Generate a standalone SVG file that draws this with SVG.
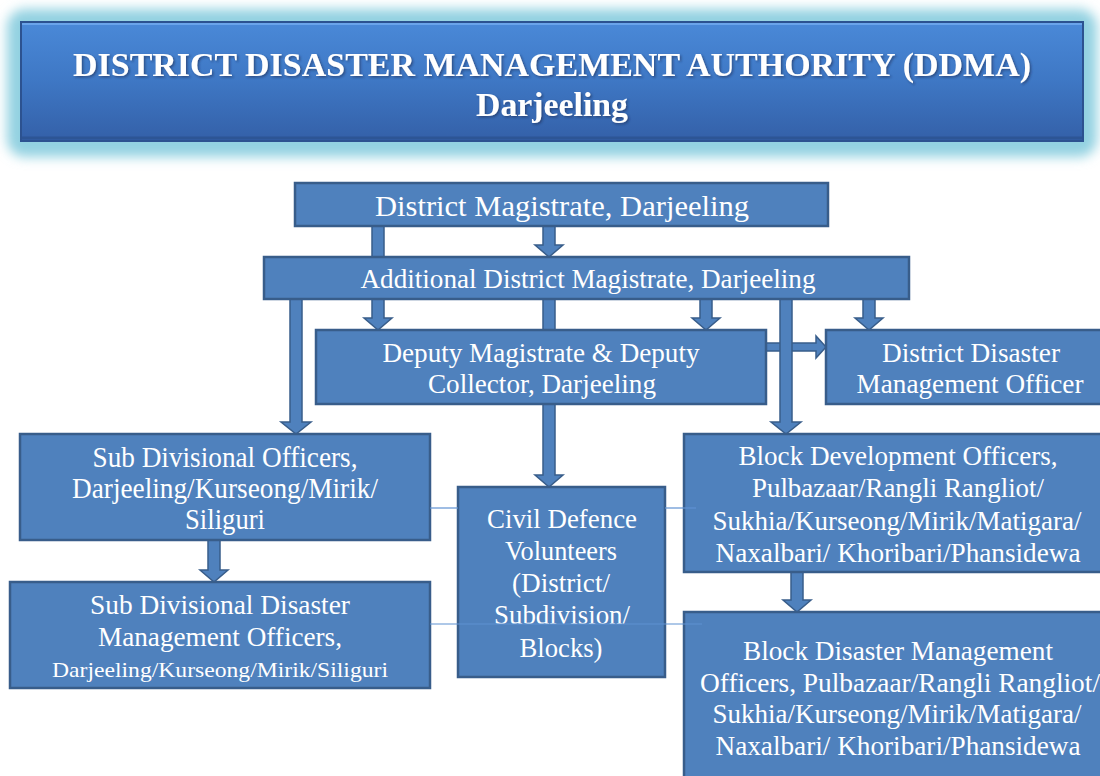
<svg xmlns="http://www.w3.org/2000/svg" width="1100" height="776" viewBox="0 0 1100 776">
<defs>
<linearGradient id="hdr" x1="0" y1="0" x2="0" y2="1">
<stop offset="0" stop-color="#4a89d8"/>
<stop offset="0.5" stop-color="#3e77c4"/>
<stop offset="1" stop-color="#3460a8"/>
</linearGradient>
<filter id="glow" x="-5%" y="-20%" width="110%" height="140%">
<feGaussianBlur stdDeviation="6"/>
</filter>
<filter id="tshadow" x="-5%" y="-20%" width="110%" height="140%">
<feDropShadow dx="1.5" dy="1.5" stdDeviation="1" flood-color="#1a2f55" flood-opacity="0.6"/>
</filter>
</defs>
<style>
.box{fill:#4f81bd;stroke:#385d8a;stroke-width:2.5}
.arr{fill:#4f81bd;stroke:#385d8a;stroke-width:1.5;stroke-linejoin:miter}
.thin{stroke:#5f92d2;stroke-width:1.2;fill:none}
.t{font-family:"Liberation Serif","Times New Roman",serif;fill:#ffffff;text-anchor:middle;font-size:27px}
.title{font-family:"Liberation Serif","Times New Roman",serif;font-weight:bold;fill:#ffffff;text-anchor:middle}
</style>

<g id="header">
<rect x="7" y="9" width="1090" height="148" rx="18" fill="#93d1e1" filter="url(#glow)"/>
<rect x="21" y="22" width="1062" height="119" fill="url(#hdr)" stroke="#2c5290" stroke-width="2"/>
<line x1="22" y1="24" x2="1082" y2="24" stroke="#6aa4ea" stroke-width="2"/>
<line x1="22" y1="138" x2="1082" y2="138" stroke="#2d5595" stroke-width="3"/>
<g filter="url(#tshadow)">
<text class="title" x="552" y="76" font-size="33" textLength="958" lengthAdjust="spacingAndGlyphs">DISTRICT DISASTER MANAGEMENT AUTHORITY (DDMA)</text>
<text class="title" x="552" y="116" font-size="33" textLength="152" lengthAdjust="spacingAndGlyphs">Darjeeling</text>
</g>
</g>

<g id="connectors">
<path class="arr" d="M372,226 H384 V257 H372 Z"/>
<path class="arr" d="M543,226 H555 V245 H563 L549,257 L535,245 H543 Z"/>
<path class="arr" d="M290,299 H302 V422 H311 L296,434 L281,422 H290 Z"/>
<path class="arr" d="M372,299 H384 V318 H392 L378,330 L364,318 H372 Z"/>
<path class="arr" d="M543,299 H555 V330 H543 Z"/>
<path class="arr" d="M700,299 H712 V318 H720 L706,330 L692,318 H700 Z"/>
<path class="arr" d="M863,299 H875 V318 H883 L869,330 L855,318 H863 Z"/>
<path class="arr" d="M766,343 H816 V336 L826,347 L816,358 V351 H766 Z"/>
<path class="arr" d="M780,299 H792 V422 H801 L786,434 L771,422 H780 Z"/>
<path class="arr" d="M543,404 H555 V475 H563 L549,487 L535,475 H543 Z"/>
<path class="arr" d="M208,540 H220 V570 H228 L214,582 L200,570 H208 Z"/>
<path class="arr" d="M791,572 H803 V600 H811 L797,612 L783,600 H791 Z"/>
</g>

<g id="dm">
<rect class="box" x="295" y="183" width="533" height="43"/>
<text class="t" x="562" y="216" style="font-size:29px" textLength="374" lengthAdjust="spacingAndGlyphs">District Magistrate, Darjeeling</text>
</g>

<g id="adm">
<rect class="box" x="264" y="257" width="645" height="42"/>
<text class="t" x="588" y="288" textLength="455" lengthAdjust="spacingAndGlyphs">Additional District Magistrate, Darjeeling</text>
</g>

<g id="deputy">
<rect class="box" x="316" y="330" width="450" height="74"/>
<text class="t" x="541" y="362" textLength="317" lengthAdjust="spacingAndGlyphs">Deputy Magistrate &amp; Deputy</text>
<text class="t" x="542" y="393" textLength="228" lengthAdjust="spacingAndGlyphs">Collector, Darjeeling</text>
</g>

<g id="ddmo">
<rect class="box" x="826" y="330" width="280" height="74"/>
<text class="t" x="971" y="362" textLength="178" lengthAdjust="spacingAndGlyphs">District Disaster</text>
<text class="t" x="970" y="393" textLength="227" lengthAdjust="spacingAndGlyphs">Management Officer</text>
</g>

<g id="sdo">
<rect class="box" x="20" y="434" width="410" height="106"/>
<text class="t" x="225" y="467" style="font-size:29px" textLength="265" lengthAdjust="spacingAndGlyphs">Sub Divisional Officers,</text>
<text class="t" x="225" y="498" style="font-size:29px" textLength="306" lengthAdjust="spacingAndGlyphs">Darjeeling/Kurseong/Mirik/</text>
<text class="t" x="225" y="529" style="font-size:29px" textLength="80" lengthAdjust="spacingAndGlyphs">Siliguri</text>
</g>

<g id="sddmo">
<rect class="box" x="10" y="582" width="420" height="106"/>
<text class="t" x="220" y="614" textLength="260" lengthAdjust="spacingAndGlyphs">Sub Divisional Disaster</text>
<text class="t" x="220" y="646" textLength="244" lengthAdjust="spacingAndGlyphs">Management Officers,</text>
<text class="t" x="220" y="677" style="font-size:22px" textLength="336" lengthAdjust="spacingAndGlyphs">Darjeeling/Kurseong/Mirik/Siliguri</text>
</g>

<g id="civil-defence">
<rect class="box" x="458" y="487" width="207" height="190"/>
<text class="t" x="562" y="528" textLength="150" lengthAdjust="spacingAndGlyphs">Civil Defence</text>
<text class="t" x="561" y="560" textLength="112" lengthAdjust="spacingAndGlyphs">Volunteers</text>
<text class="t" x="561" y="592" textLength="98" lengthAdjust="spacingAndGlyphs">(District/</text>
<text class="t" x="562" y="624" textLength="136" lengthAdjust="spacingAndGlyphs">Subdivision/</text>
<text class="t" x="561" y="657" textLength="83" lengthAdjust="spacingAndGlyphs">Blocks)</text>
</g>

<g id="bdo">
<rect class="box" x="684" y="434" width="422" height="138"/>
<text class="t" x="898" y="465" textLength="319" lengthAdjust="spacingAndGlyphs">Block Development Officers,</text>
<text class="t" x="898" y="497" textLength="292" lengthAdjust="spacingAndGlyphs">Pulbazaar/Rangli Rangliot/</text>
<text class="t" x="897" y="530" textLength="369" lengthAdjust="spacingAndGlyphs">Sukhia/Kurseong/Mirik/Matigara/</text>
<text class="t" x="898" y="562" textLength="365" lengthAdjust="spacingAndGlyphs">Naxalbari/ Khoribari/Phansidewa</text>
</g>

<g id="bdmo">
<rect class="box" x="684" y="612" width="422" height="170"/>
<text class="t" x="898" y="660" textLength="310" lengthAdjust="spacingAndGlyphs">Block Disaster Management</text>
<text class="t" x="900" y="692" textLength="400" lengthAdjust="spacingAndGlyphs">Officers, Pulbazaar/Rangli Rangliot/</text>
<text class="t" x="897" y="723" textLength="369" lengthAdjust="spacingAndGlyphs">Sukhia/Kurseong/Mirik/Matigara/</text>
<text class="t" x="898" y="755" textLength="365" lengthAdjust="spacingAndGlyphs">Naxalbari/ Khoribari/Phansidewa</text>
</g>

<g id="thin-links">
<line class="thin" x1="430" y1="508" x2="458" y2="508"/>
<line class="thin" x1="665" y1="508" x2="696" y2="508"/>
<line class="thin" x1="430" y1="624" x2="702" y2="624"/>
</g>
</svg>
